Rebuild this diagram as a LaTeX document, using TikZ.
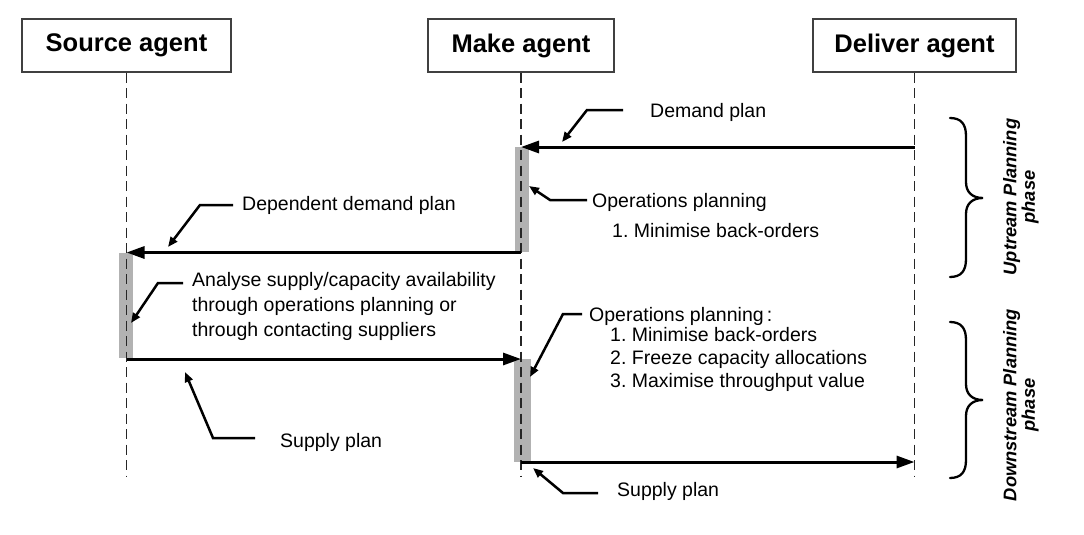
\documentclass[tikz,border=0pt]{standalone}
\usepackage{fontspec}
\setmainfont{Liberation Sans}
\usetikzlibrary{arrows.meta}
\frenchspacing
\begin{document}
\begin{tikzpicture}[x=1pt,y=-1pt,
 agent/.style={draw=black!75, line width=1.4pt, minimum height=53pt, inner sep=0pt, font=\fontsize{25.5}{30}\selectfont\bfseries},
 lifeline/.style={draw=black!85, line width=1.4pt, dash pattern=on 10pt off 5.5pt},
 actbar/.style={fill=black!30, draw=none, minimum width=14pt, inner sep=0pt},
 msg/.style={line width=3pt, -{Triangle[length=18pt,width=12pt]}},
 leader/.style={line width=2.5pt, -{Triangle[length=10pt,width=8pt]}},
 lbl/.style={anchor=west, inner sep=0pt, align=left, font=\fontsize{19.5}{23}\selectfont},
 phase/.style={rotate=90, align=center, inner sep=0pt, font=\fontsize{18.3}{18.5}\selectfont\bfseries\itshape},
 bracepath/.style={line width=2.3pt, line cap=round}
]
\useasboundingbox (0,0) rectangle (1084,535);

% agents
\node[agent, minimum width=209pt] (src) at (126.5,45.5) {Source agent};
\node[agent, minimum width=186pt] (mk) at (521,45.5) {Make agent};
\node[agent, minimum width=203pt] (dlv) at (914.5,45.5) {Deliver agent};

% activation bars
\node[actbar, minimum height=105pt] (mbarA) at (522,199.5) {};
\node[actbar, minimum height=105pt] (sbar) at (126,305.5) {};
\node[actbar, minimum width=17pt, minimum height=103pt] (mbarB) at (522,410.5) {};

% lifelines
\coordinate (srcE) at (126.5,477);
\coordinate (mkE) at (521,477);
\coordinate (dlvE) at (914.5,477);
\draw[lifeline] (src.south) -- (srcE);
\draw[lifeline] (mk.south) -- (mkE);
\draw[lifeline] (dlv.south) -- (dlvE);

% messages
\coordinate (dA) at (914.5,147);
\coordinate (mA) at (521,147);
\draw[msg] (dA) -- (mA);
\coordinate (mB) at (521,252.5);
\coordinate (sB) at (126.5,252.5);
\draw[msg] (mB) -- (sB);
\coordinate (sC) at (126.5,359);
\coordinate (mC) at (521,359);
\draw[msg] (sC) -- (mC);
\coordinate (mD) at (521,462);
\coordinate (dD) at (914.5,462);
\draw[msg] (mD) -- (dD);

% labels
\node[lbl] (tDemand) at (650,112) {Demand plan};
\node[lbl] (tOps1) at (592,202) {Operations planning};
\node[lbl] (tOps1a) at (612,231) {1. Minimise back-orders};
\node[lbl] (tDep) at (242,205) {Dependent demand plan};
\node[lbl, font=\fontsize{19.5}{25}\selectfont] (tAnalyse) at (192,306) {Analyse supply/capacity availability\\through operations planning or\\through contacting suppliers};
\node[lbl] (tOps2) at (589,316) {Operations planning\,:};
\node[lbl] (tOps2a) at (610,359.5) {1. Minimise back-orders\\2. Freeze capacity allocations\\3. Maximise throughput value};
\node[lbl] (tSup1) at (280,442) {Supply plan};
\node[lbl] (tSup2) at (617,491) {Supply plan};

% leaders
\coordinate (l1a) at (623,110); \coordinate (l1b) at (587,110); \coordinate (l1c) at (562,142);
\draw[leader] (l1a) -- (l1b) -- (l1c);
\coordinate (l2a) at (587,200); \coordinate (l2b) at (550,200); \coordinate (l2c) at (529,186);
\draw[leader] (l2a) -- (l2b) -- (l2c);
\coordinate (l3a) at (233,205); \coordinate (l3b) at (200,205); \coordinate (l3c) at (168,247);
\draw[leader] (l3a) -- (l3b) -- (l3c);
\coordinate (l4a) at (183,283); \coordinate (l4b) at (158,283); \coordinate (l4c) at (131,323);
\draw[leader] (l4a) -- (l4b) -- (l4c);
\coordinate (l5a) at (255,438); \coordinate (l5b) at (213,438); \coordinate (l5c) at (185,372);
\draw[leader] (l5a) -- (l5b) -- (l5c);
\coordinate (l6a) at (582,314); \coordinate (l6b) at (563,314); \coordinate (l6c) at (530,377);
\draw[leader] (l6a) -- (l6b) -- (l6c);
\coordinate (l7a) at (598,493); \coordinate (l7b) at (563,493); \coordinate (l7c) at (533,468);
\draw[leader] (l7a) -- (l7b) -- (l7c);

% braces
\draw[bracepath] (950,118) .. controls (961,118) and (966,124) .. (966,136) -- (966,182)
  .. controls (966,192) and (972,198) .. (983,198)
  .. controls (972,198) and (966,204) .. (966,214) -- (966,259)
  .. controls (966,271) and (961,277) .. (950,277);
\draw[bracepath] (950,322) .. controls (961,322) and (966,328) .. (966,340) -- (966,384)
  .. controls (966,394) and (972,400) .. (983,400)
  .. controls (972,400) and (966,406) .. (966,416) -- (966,460)
  .. controls (966,472) and (961,478) .. (950,478);

\node[phase] (pUp) at (1021,197) {Uptream Planning\\phase};
\node[phase] (pDown) at (1021,405) {Downstream Planning\\phase};
\end{tikzpicture}
\end{document}
